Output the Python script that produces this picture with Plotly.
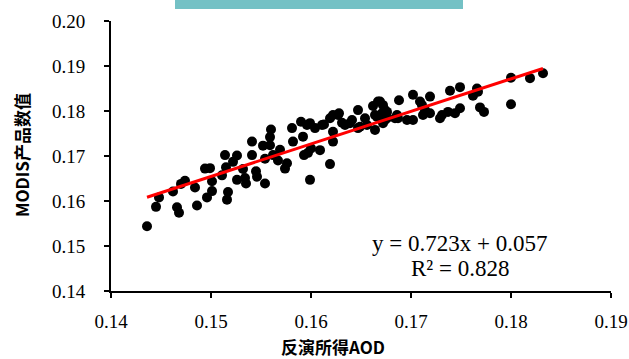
import plotly.graph_objects as go

# Retrieved AOD (x) vs MODIS product value (y)
aod_retrieved = [
    0.1436, 0.1445, 0.1448, 0.1462, 0.1466, 0.1468, 0.1470, 0.1474, 0.1484, 0.1486,
    0.1494, 0.1499, 0.1496, 0.1501, 0.1501, 0.1511, 0.1514, 0.1515, 0.1516, 0.1517,
    0.1522, 0.1526, 0.1526, 0.1532, 0.1535, 0.1534, 0.1541, 0.1541, 0.1545, 0.1546,
    0.1552, 0.1559, 0.1554, 0.1554, 0.1562, 0.1569, 0.1567, 0.1574, 0.1576, 0.1582,
    0.1593, 0.1597, 0.1600, 0.1599, 0.1609, 0.1619, 0.1622, 0.1559, 0.1560, 0.1581,
    0.1590, 0.1596, 0.1592, 0.1604, 0.1613, 0.1619, 0.1622, 0.1628, 0.1622, 0.1631,
    0.1634, 0.1641, 0.1647, 0.1647, 0.1654, 0.1656, 0.1662, 0.1667, 0.1672, 0.1664,
    0.1666, 0.1671, 0.1676, 0.1672, 0.1676, 0.1686, 0.1687, 0.1688, 0.1696, 0.1702,
    0.1702, 0.1711, 0.1712, 0.1719, 0.1719, 0.1729, 0.1737, 0.1739, 0.1744, 0.1749,
    0.1749, 0.1762, 0.1766, 0.1769, 0.1773, 0.1800, 0.1800, 0.1819, 0.1832, 0.1599,
    0.1611, 0.1627, 0.1639, 0.1649, 0.1674, 0.1664, 0.1669, 0.1674, 0.1731, 0.1767,
    0.1714, 0.1709, 0.1684, 0.1669,
]
modis_value = [
    0.1544, 0.1587, 0.1608, 0.1621, 0.1586, 0.1574, 0.1638, 0.1645, 0.1630, 0.1590,
    0.1672, 0.1673, 0.1608, 0.1622, 0.1644, 0.1657, 0.1702, 0.1675, 0.1603, 0.1620,
    0.1687, 0.1701, 0.1647, 0.1671, 0.1639, 0.1651, 0.1702, 0.1732, 0.1666, 0.1654,
    0.1723, 0.1724, 0.1639, 0.1694, 0.1702, 0.1714, 0.1690, 0.1672, 0.1684, 0.1732,
    0.1702, 0.1707, 0.1717, 0.1647, 0.1713, 0.1682, 0.1732, 0.1742, 0.1759, 0.1762,
    0.1776, 0.1769, 0.1743, 0.1762, 0.1770, 0.1784, 0.1791, 0.1795, 0.1754, 0.1774,
    0.1769, 0.1780, 0.1802, 0.1762, 0.1784, 0.1769, 0.1811, 0.1821, 0.1813, 0.1758,
    0.1787, 0.1795, 0.1798, 0.1773, 0.1784, 0.1791, 0.1784, 0.1824, 0.1780, 0.1780,
    0.1836, 0.1813, 0.1791, 0.1832, 0.1795, 0.1784, 0.1798, 0.1845, 0.1795, 0.1806,
    0.1853, 0.1834, 0.1850, 0.1808, 0.1798, 0.1874, 0.1815, 0.1873, 0.1884, 0.1773,
    0.1769, 0.1791, 0.1773, 0.1765, 0.1802, 0.1791, 0.1787, 0.1780, 0.1791, 0.1843,
    0.1802, 0.1821, 0.1784, 0.1821,
]

fit_slope = 0.723
fit_intercept = 0.057
fit_r2 = 0.828

x_ticks = [0.14, 0.15, 0.16, 0.17, 0.18, 0.19]
x_tick_labels = ["0.14", "0.15", "0.16", "0.17", "0.18", "0.19"]
y_ticks = [0.14, 0.15, 0.16, 0.17, 0.18, 0.19, 0.20]
y_tick_labels = ["0.14", "0.15", "0.16", "0.17", "0.18", "0.19", "0.20"]

x_title = "反演所得AOD"
y_title = "MODIS产品数值"

fit_x = [min(aod_retrieved), max(aod_retrieved)]
fit_y = [fit_slope * v + fit_intercept for v in fit_x]

fig = go.Figure()
fig.add_trace(go.Scatter(
    x=aod_retrieved, y=modis_value, mode="markers",
    marker=dict(color="black", size=10, line=dict(width=0)),
    showlegend=False, hoverinfo="skip",
))
fig.add_trace(go.Scatter(
    x=fit_x, y=fit_y, mode="lines",
    line=dict(color="#FF0000", width=3),
    showlegend=False, hoverinfo="skip",
))

serif = ("Liberation Serif, Tinos, Times New Roman, Times, Nimbus Roman, "
         "Noto Serif, DejaVu Serif, serif")
cjk = "Noto Sans CJK SC, sans-serif"

W, H = 629, 359
L, T = 111, 21
PW, PH = 500, 270  # plot area size in px


def px_x(px):
    return (px - L) / PW


def px_y(py):
    return (T + PH - py) / PH


axis_common = dict(
    showgrid=False, zeroline=False, showline=True, linecolor="black", linewidth=2,
    ticks="outside", ticklen=5, tickwidth=1.5, tickcolor="black", automargin=False,
    tickfont=dict(family=serif, size=19, color="black"),
)

fig.update_layout(
    width=W, height=H,
    margin=dict(l=L, r=W - L - PW, t=T, b=H - T - PH, pad=0, autoexpand=False),
    paper_bgcolor="white", plot_bgcolor="white",
    font=dict(family=serif, color="black"),
    xaxis=dict(range=[0.14, 0.19], tickvals=x_ticks, ticktext=x_tick_labels,
               ticklabelstandoff=7, **axis_common),
    yaxis=dict(range=[0.14, 0.20], tickvals=y_ticks, ticktext=y_tick_labels,
               ticklabelstandoff=15, **axis_common),
    shapes=[dict(type="rect", xref="paper", yref="paper",
                 x0=px_x(175), x1=px_x(463), y0=px_y(9), y1=px_y(-2),
                 fillcolor="#74C1C5", line=dict(width=0), layer="above")],
    annotations=[
        dict(text=f"y = {fit_slope}x + {fit_intercept}", xref="paper", yref="paper",
             x=px_x(459.5), y=px_y(243), xanchor="center", yanchor="middle",
             showarrow=False, font=dict(family=serif, size=23, color="black")),
        dict(text=f"R² = {fit_r2}", xref="paper", yref="paper",
             x=px_x(459.5), y=px_y(268), xanchor="center", yanchor="middle",
             showarrow=False, font=dict(family=serif, size=23, color="black")),
        dict(text=f"<b>{x_title}</b>", xref="paper", yref="paper",
             x=px_x(333), y=px_y(346), xanchor="center", yanchor="middle",
             showarrow=False, font=dict(family=cjk, size=17, color="black")),
        dict(text=f"<b>{y_title}</b>", xref="paper", yref="paper",
             x=px_x(21), y=px_y(155), xanchor="center", yanchor="middle",
             textangle=-90, showarrow=False, font=dict(family=cjk, size=17, color="black")),
    ],
)

fig.write_html(
    "out.html",
    config={"displayModeBar": False, "staticPlot": True},
    post_script="document.body.style.margin='0';document.body.style.overflow='hidden';",
)
